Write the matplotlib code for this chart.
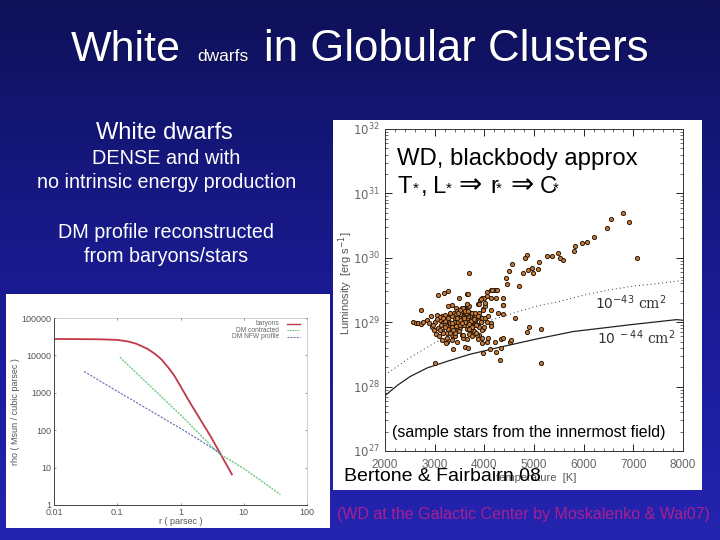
import matplotlib
matplotlib.use('Agg')
import matplotlib.pyplot as plt
import numpy as np
from matplotlib.colors import LinearSegmentedColormap
from matplotlib.patches import Rectangle
from matplotlib.ticker import FixedLocator, NullFormatter

plt.rcParams['font.family'] = ['Liberation Sans', 'DejaVu Sans']

# left panel: density profiles
r_baryons = [0.01, 0.05, 0.1, 0.15, 0.2, 0.3, 0.4, 0.5, 0.65, 0.8, 1, 1.4, 2, 3, 4.5, 6.5]
rho_baryons = [27500, 27000, 26000, 23500, 20500, 15000, 10800, 7800, 4600, 2850, 1500, 560, 209, 68, 20, 6.6]
r_connected = [0.11, 1, 4, 10, 38]
rho_connected = [8900, 257, 24, 9.5, 1.9]
r_nfw = [0.03, 0.1, 1, 4.5]
rho_nfw = [3700, 1100, 112, 23]
rho_ticks = [1, 10, 100, 1000, 10000, 100000]
r_ticks = [0.01, 0.1, 1, 10, 100]
r_labels = ['0.01', '0.1', '1', '10', '100']
rho_labels = ['1', '10', '100', '1000', '10000', '100000']
legend_names = ['baryons', 'DM contracted', 'DM NFW profile']

# right panel: white dwarfs, temperature [K] and log10 luminosity
temp_stars = [
    6798, 6919, 7066, 6543, 6462, 6214, 6073, 5959, 5825, 5805, 5590, 5523, 5483, 5355, 5255,
    5107, 5087, 4953, 4986, 4872, 4785, 4704, 4852, 4818, 4557, 4490, 4429, 4449, 3691, 4181,
    4235, 4134, 4047, 3657, 3074, 3188, 3262, 3496, 3657, 3342, 3946, 3913, 3993, 4134, 4235,
    4369, 4382, 3879, 3007, 4315, 5140, 3966, 4114, 4329, 4235, 3362, 3610, 3664, 4516, 4536,
    4329, 4382, 4214, 4047, 4080, 3946, 3946, 4852, 4892, 5147, 4617, 4382, 4382, 4268, 4134,
    4134, 2725, 2570, 2624, 2671, 2718, 2772, 2839, 2893, 2940, 2926, 3040, 3141, 3208, 3007,
    3107, 3175, 2960, 2980, 3020, 3060, 3100, 3140, 3180, 3220, 3260, 3300, 3340, 3380, 3420,
    3460, 3500, 3540, 3580, 3620, 3660, 3700, 3740, 3780, 3820, 3860, 3900, 3940, 3980, 4020,
    3050, 3090, 3130, 3170, 3210, 3250, 3290, 3330, 3370, 3410, 3450, 3490, 3530, 3570, 3610,
    3650, 3690, 3730, 3770, 3810, 3850, 3890, 3930, 3970, 3100, 3150, 3200, 3250, 3300, 3350,
    3400, 3450, 3500, 3550, 3600, 3650, 3700, 3750, 3800, 3850, 3900, 3950, 3160, 3220, 3280,
    3340, 3400, 3460, 3520, 3580, 3640, 3700, 3760, 3820, 3880, 3240, 3300, 3360, 3420, 3480,
    3540, 3600, 3660, 3300, 3380, 3460, 3520, 3590, 3650, 3720, 3790, 3430, 3490, 3550, 3610,
    3680, 3740, 3510, 3570, 3630, 3690, 3560, 3610, 3660, 3590, 3640, 3260, 3340, 3420, 3510,
    3760, 3840, 3920, 4000, 4060, 3350, 3440, 3560, 3700, 3830,
    3925, 4046, 4147, 4248, 4019, 3899, 3966, 3664, 3657, 3261, 3308, 3576, 3509, 3476, 3610,
    3677, 3744, 3811, 3878, 3945, 4013, 4080, 4127,
]
lum_stars = [
    30.70, 30.55, 30.00, 30.60, 30.47, 30.33, 30.24, 30.23, 30.19, 30.10, 29.96, 30.00, 30.08, 30.03, 30.03,
    29.94, 29.82, 29.84, 29.76, 29.81, 29.76, 29.56, 30.04, 30.00, 29.91, 29.79, 29.68, 29.59, 29.76, 29.50,
    29.50, 29.50, 29.47, 29.44, 29.43, 29.45, 29.48, 29.37, 29.28, 29.27, 29.37, 29.34, 29.38, 29.37, 29.37,
    29.37, 29.27, 29.29, 28.36, 28.42, 28.37, 28.52, 28.59, 28.60, 28.54, 28.59, 28.61, 28.60, 28.70, 28.73,
    28.74, 28.75, 28.70, 28.70, 28.75, 28.75, 28.67, 28.85, 28.93, 28.90, 29.07, 29.13, 29.27, 29.14, 28.98,
    28.94, 29.19, 29.00, 28.99, 28.98, 28.97, 29.00, 29.03, 28.99, 28.93, 29.10, 29.11, 29.09, 29.11, 29.01,
    29.04, 28.98, 28.95, 28.88, 28.82, 28.91, 29.08, 28.86, 28.95, 29.05, 28.90, 29.12, 28.80, 29.00, 29.22,
    28.90, 29.08, 29.20, 28.95, 29.15, 29.05, 29.25, 28.97, 29.10, 29.02, 29.06, 29.15, 29.00, 29.20, 29.25,
    29.05, 28.78, 28.95, 28.84, 29.02, 28.76, 28.99, 28.85, 29.12, 28.78, 29.18, 28.86, 29.10, 28.76, 29.20,
    28.90, 28.82, 29.02, 28.86, 29.08, 28.95, 28.80, 29.00, 28.90, 28.88, 28.72, 28.92, 28.70, 28.96, 28.72,
    29.06, 28.70, 29.14, 28.80, 29.04, 28.74, 29.12, 28.78, 28.86, 28.80, 28.92, 28.88, 29.07, 28.68, 29.00,
    28.92, 28.84, 29.00, 28.92, 28.80, 29.12, 29.16, 28.94, 29.03, 28.74, 28.83, 28.98, 28.88, 28.94, 29.10,
    29.03, 28.96, 29.17, 28.84, 29.14, 29.06, 28.96, 29.22, 29.00, 29.10, 29.05, 29.13, 29.08, 29.18, 29.02,
    29.09, 28.90, 29.12, 29.05, 29.16, 28.97, 29.22, 29.00, 29.12, 29.07, 29.15, 29.06, 29.10, 28.94, 29.04,
    28.92, 28.96, 29.08, 28.92, 29.00, 28.98, 29.06, 28.98, 28.90, 28.84,
    29.36, 29.40, 29.50, 29.50, 29.30, 29.29, 29.19, 29.44, 29.29, 29.25, 29.14, 29.22, 29.19, 29.14, 29.17,
    29.17, 29.14, 29.14, 29.09, 29.06, 29.06, 29.10, 29.19,
]
temp_curve = [2000, 2500, 3000, 3500, 4000, 4500, 5000, 5500, 6000, 6500, 7000, 7500, 8000]
lum_43 = [28.18, 28.45, 28.68, 28.86, 29.00, 29.12, 29.24, 29.32, 29.42, 29.50, 29.56, 29.60, 29.65]
temp_44 = [2000, 2250, 2503, 2850, 3241, 3700, 4248, 5053, 5791, 6932, 7871, 8000]
lum_44 = [27.86, 28.02, 28.155, 28.29, 28.39, 28.50, 28.60, 28.74, 28.855, 28.96, 29.04, 29.03]
lum_exponents = [27, 28, 29, 30, 31, 32]
temp_ticks = [2000, 3000, 4000, 5000, 6000, 7000, 8000]


def fx(px):
    return px / 720


def fy(py):
    return 1 - py / 540


def add_axes_px(x0, y0, x1, y1):
    return fig.add_axes([fx(x0), fy(y1), fx(x1) - fx(x0), fy(y0) - fy(y1)])


fig = plt.figure(figsize=(7.2, 5.4), dpi=100)

# blue gradient slide background, white boxes behind the two plots
bg = fig.add_axes([0, 0, 1, 1])
bg.set_xlim(0, 720)
bg.set_ylim(540, 0)
bg.axis('off')
cmap = LinearSegmentedColormap.from_list('slide', ['#0e1058', '#161880', '#1c1c9c', '#2424b0'])
bg.imshow(np.linspace(0, 1, 256).reshape(-1, 1), cmap=cmap, aspect='auto', extent=[0, 720, 540, 0])
bg.add_patch(Rectangle((6, 294), 324, 234, color='white', ec='none'))
bg.add_patch(Rectangle((333, 120), 369, 370, color='white', ec='none'))

# left plot
ax1 = add_axes_px(54, 318, 307, 505)
ax1.loglog(r_baryons, rho_baryons, color='#c03848', lw=1.3)
ax1.loglog(r_connected, rho_connected, color='#70c880', lw=1.0, ls=(0, (1.5, 0.8)))
ax1.loglog(r_nfw, rho_nfw, color='#6a6ab0', lw=0.8, ls=(0, (2, 1.2)))
ax1.set_xlim(0.01, 100)
ax1.set_ylim(1, 100000)
ax1.xaxis.set_major_locator(FixedLocator(r_ticks))
ax1.yaxis.set_major_locator(FixedLocator(rho_ticks))
ax1.set_xticklabels(r_labels)
ax1.set_yticklabels(rho_labels)
ax1.xaxis.set_minor_locator(FixedLocator([]))
ax1.yaxis.set_minor_locator(FixedLocator([]))
ax1.tick_params(direction='in', length=1.5, width=0.5, top=True, right=True, labelsize=6.5,
                labelcolor='#555555', color='#666666', pad=2)
for side in ['left', 'bottom']:
    ax1.spines[side].set_color('#444444')
    ax1.spines[side].set_linewidth(0.7)
for side in ['top', 'right']:
    ax1.spines[side].set_color('#aaaaaa')
    ax1.spines[side].set_linewidth(0.4)
ax1.set_xlabel('r ( parsec )', fontsize=6.5, color='#555555', labelpad=0)
ax1.set_ylabel('rho ( Msun / cubic parsec )', fontsize=6.5, color='#555555', labelpad=1)
for i, name in enumerate(legend_names):
    bg.text(279, 323.5 + i * 6.5, name, fontsize=4.8, color='#666666', ha='right', va='center')
bg.plot([287, 300], [323.5, 323.5], color='#c03848', lw=1.0)
bg.plot([287, 300], [330, 330], color='#70c880', lw=0.8, ls=(0, (1.5, 0.8)))
bg.plot([287, 300], [336.5, 336.5], color='#6a6ab0', lw=0.7, ls=(0, (2, 1.2)))

# right plot
ax2 = add_axes_px(385, 129, 683, 451)
ax2.set_yscale('log')
ax2.plot(temp_curve, 10.0 ** np.array(lum_43), color='#333333', lw=0.7, ls=(0, (1, 3)))
ax2.plot(temp_44, 10.0 ** np.array(lum_44), color='#222222', lw=0.9)
ax2.scatter(temp_stars, 10.0 ** np.array(lum_stars), s=9, color='#c87a38', edgecolors='#2a1a0a',
            linewidths=0.7, zorder=3)
ax2.set_xlim(2000, 8000)
ax2.set_ylim(1e27, 1e32)
ax2.set_xticks(temp_ticks)
ax2.xaxis.set_minor_locator(FixedLocator(np.arange(2000, 8001, 200)))
ax2.yaxis.set_major_locator(FixedLocator([10.0 ** e for e in lum_exponents]))
ax2.yaxis.set_minor_locator(FixedLocator([m * 10.0 ** e for e in lum_exponents[:-1] for m in range(2, 10)]))
ax2.yaxis.set_minor_formatter(NullFormatter())
ax2.set_yticklabels(['$10^{%d}$' % e for e in lum_exponents])
ax2.tick_params(which='major', direction='in', length=5, width=0.7, top=True, right=True,
                labelsize=8.5, labelcolor='#666666', color='#222222', pad=4)
ax2.tick_params(axis='x', which='major', pad=6)
ax2.tick_params(which='minor', direction='in', length=2.5, width=0.5, top=True, right=True, color='#333333')
for spine in ax2.spines.values():
    spine.set_linewidth(0.7)
    spine.set_color('#333333')
bg.text(346, 283, 'Luminosity  [erg s$^{-1}$]', fontsize=8, color='#555555', rotation=90, ha='center', va='center')
bg.text(536, 478, 'temperature  [K]', fontsize=8, color='#555555', ha='center', va='center', zorder=1)
bg.text(595, 309, '$10^{-43}$ cm$^2$', fontsize=10, color='#333333', family='DejaVu Serif', va='baseline')
bg.text(597, 344, '$10^{\\ -44}$ cm$^2$', fontsize=10, color='#333333', family='DejaVu Serif', va='baseline')
ax2.patch.set_alpha(0)
ax2.set_zorder(2)
ax1.patch.set_alpha(0)

# slide text on top of everything
top = fig.add_axes([0, 0, 1, 1])
top.set_xlim(0, 720)
top.set_ylim(540, 0)
top.axis('off')
top.patch.set_alpha(0)
top.set_zorder(5)

title_parts = [('White', 71, 31), ('dwarfs', 197, 12.5), ('in Globular Clusters', 264, 31.5)]
for s, x, size in title_parts:
    top.text(x + 1.2, 61 + 1.2, s, fontsize=size, color='#0a0c40', va='baseline')
    top.text(x, 61, s, fontsize=size, color='white', va='baseline')

top.text(164, 133, 'White dwarfs', fontsize=17, color='white', ha='center', va='center')
top.text(166, 159, 'DENSE and with', fontsize=14.3, color='white', ha='center', va='center')
top.text(167, 183, 'no intrinsic energy production', fontsize=14.2, color='white', ha='center', va='center')
top.text(166, 232, 'DM profile reconstructed', fontsize=14.2, color='white', ha='center', va='center')
top.text(166, 256, 'from baryons/stars', fontsize=14.2, color='white', ha='center', va='center')

top.text(397, 165, 'WD, blackbody approx', fontsize=17.2, color='black', va='baseline')
eq_parts = [('T', 397, 17.2), ('*', 413, 11), (',', 421, 17.2), ('L', 433, 17.2), ('*', 446, 11),
            ('\u21d2', 458, 20), ('r', 490, 17.2), ('*', 496, 11), ('\u21d2', 510, 20),
            ('C', 540, 17.2), ('*', 553, 11)]
for s, x, size in eq_parts:
    top.text(x, 193, s, fontsize=size, color='black', va='baseline')

top.text(392, 437, '(sample stars from the innermost field)', fontsize=11.5, color='black', va='baseline')
top.text(344, 481, 'Bertone & Fairbairn 08', fontsize=14, color='black', va='baseline')
top.text(337, 519, '(WD at the Galactic Center by Moskalenko & Wai07)', fontsize=11.5, color='#a82090', va='baseline')

fig.savefig('out.png', dpi=100)
